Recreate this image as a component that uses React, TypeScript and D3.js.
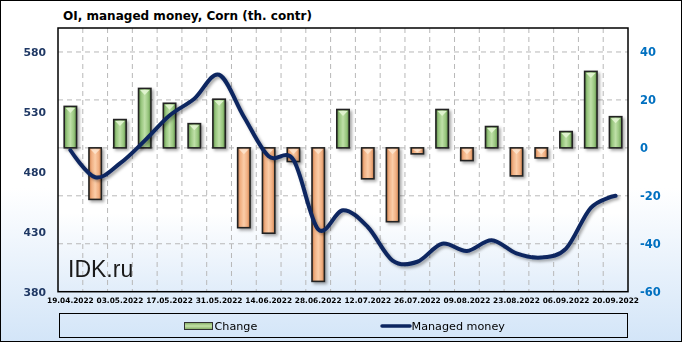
import React from "react";
import * as d3 from "d3";

const dates = [
  "19.04.2022", "26.04.2022", "03.05.2022", "10.05.2022", "17.05.2022", "24.05.2022",
  "31.05.2022", "07.06.2022", "14.06.2022", "21.06.2022", "28.06.2022", "05.07.2022",
  "12.07.2022", "19.07.2022", "26.07.2022", "02.08.2022", "09.08.2022", "16.08.2022",
  "23.08.2022", "30.08.2022", "06.09.2022", "13.09.2022", "20.09.2022",
];
const change = [17.3, -21.5, 11.8, 24.8, 18.6, 10.1, 20.3, -33.3, -35.6, -5.7, -55.7, 16, -12.9, -30.8, -2.5, 16, -5.3, 8.9, -11.7, -4.2, 6.8, 31.9, 13];
const managedMoney = [498, 475.5, 487, 506, 527, 541, 561, 526, 493, 490, 432, 448, 434, 406, 405, 420, 414, 423, 412, 408.5, 416, 450, 460];
const leftTicks = [380, 430, 480, 530, 580];
const rightTicks = [-60, -40, -20, 0, 20, 40];
const gridTicks = [-40, -20, 0, 20, 40];
const title = "OI, managed money, Corn (th. contr)";

const W = 682, H = 342;
const L = 58, R = 628, T = 28, B = 291.7;
const FONT = "'DejaVu Sans', Verdana, sans-serif";

export default function App() {
  const x = d3.scaleBand<string>().domain(dates).range([L, R]).padding(0);
  const yL = d3.scaleLinear().domain([380, 600]).range([B, T]);
  const yR = d3.scaleLinear().domain([-60, 50]).range([B, T]);
  const bw = x.bandwidth() * 0.5;
  const cx = (d: string) => (x(d) as number) + x.bandwidth() / 2;

  const line = d3
    .line<number>()
    .x((_, i) => cx(dates[i]))
    .y((v) => yL(v))
    .curve(d3.curveCardinal.tension(0));
  const path = line(managedMoney) || "";

  return (
    <svg width={W} height={H} style={{ position: "absolute", left: 0, top: 0 }} xmlns="http://www.w3.org/2000/svg">
      <defs>
        <linearGradient id="bg" x1="0" y1="0" x2="0" y2="1">
          <stop offset="0" stopColor="#ffffff" />
          <stop offset="0.55" stopColor="#ffffff" />
          <stop offset="1" stopColor="#d3e5f8" />
        </linearGradient>
        <linearGradient id="plotbg" x1="0" y1="0" x2="0" y2="1">
          <stop offset="0" stopColor="#ffffff" />
          <stop offset="0.7" stopColor="#ffffff" />
          <stop offset="1" stopColor="#e1edfa" />
        </linearGradient>
        <linearGradient id="gGreen" x1="0" y1="0" x2="1" y2="0">
          <stop offset="0" stopColor="#5f8f48" />
          <stop offset="0.22" stopColor="#98c67e" />
          <stop offset="0.5" stopColor="#bfe0a8" />
          <stop offset="0.78" stopColor="#98c67e" />
          <stop offset="1" stopColor="#5f8f48" />
        </linearGradient>
        <linearGradient id="gOrange" x1="0" y1="0" x2="1" y2="0">
          <stop offset="0" stopColor="#c77c4a" />
          <stop offset="0.22" stopColor="#f0af82" />
          <stop offset="0.5" stopColor="#fbcda8" />
          <stop offset="0.78" stopColor="#f0af82" />
          <stop offset="1" stopColor="#c77c4a" />
        </linearGradient>
        <linearGradient id="legGreen" x1="0" y1="0" x2="0" y2="1">
          <stop offset="0" stopColor="#7fa860" />
          <stop offset="0.5" stopColor="#c5e3a8" />
          <stop offset="1" stopColor="#7fa860" />
        </linearGradient>
        <filter id="shadow" x="-30%" y="-30%" width="160%" height="160%">
          <feDropShadow dx="2" dy="2" stdDeviation="1.5" floodColor="#000" floodOpacity="0.35" />
        </filter>
      </defs>

      <rect x={0.5} y={0.5} width={W - 1} height={H - 1} fill="url(#bg)" stroke="#000" strokeWidth={1} />

      <text x={63} y={20} fontFamily={FONT} fontWeight="bold" fontSize={12.5} textLength={249} lengthAdjust="spacingAndGlyphs" fill="#000">
        {title}
      </text>

      <rect x={L} y={T} width={R - L} height={B - T} fill="url(#plotbg)" />

      {gridTicks.map((t) => (
        <line key={"h" + t} x1={L} x2={R} y1={yR(t)} y2={yR(t)} stroke="#b8b8b8" strokeDasharray="5,4" strokeWidth={1} />
      ))}
      {dates.slice(1).map((d) => (
        <line key={"v" + d} x1={x(d)} x2={x(d)} y1={T} y2={B} stroke="#b8b8b8" strokeDasharray="5,4" strokeWidth={1} />
      ))}

      <g filter="url(#shadow)">
        {change.map((v, i) => {
          const d = dates[i];
          const x0 = cx(d) - bw / 2;
          const y0 = Math.min(yR(v), yR(0));
          const h = Math.abs(yR(v) - yR(0));
          const pos = v >= 0;
          const top = y0;
          const tri = Math.min(5, h / 2);
          return (
            <g key={d}>
              <rect x={x0} y={y0} width={bw} height={h} fill={pos ? "url(#gGreen)" : "url(#gOrange)"} stroke="#222" strokeWidth={1.6} />
              {h > 4 && (
                <polygon
                  points={`${x0 + 1.5},${top + 1.5} ${x0 + bw - 1.5},${top + 1.5} ${x0 + bw / 2},${top + 1.5 + tri}`}
                  fill={pos ? "#e3f5d3" : "#fde3cc"}
                  opacity={0.9}
                />
              )}
            </g>
          );
        })}
      </g>

      <path d={path} fill="none" stroke="#0b2560" strokeWidth={4} strokeLinecap="round" filter="url(#shadow)" />

      <text x={68} y={277} fontFamily="'Liberation Sans', Arial, sans-serif" fontSize={23} fill="#1a1a1a">IDK.ru</text>

      <rect x={L} y={T} width={R - L} height={B - T} fill="none" stroke="#000" strokeWidth={1.5} />

      {leftTicks.map((t) => (
        <text key={"l" + t} x={46} y={yL(t) + 4} textAnchor="end" fontFamily={FONT} fontWeight="bold" fontSize={10.8} fill="#1f3864">
          {t}
        </text>
      ))}
      {rightTicks.map((t) => (
        <text key={"r" + t} x={640} y={yR(t) + 4.5} textAnchor="start" fontFamily={FONT} fontWeight="bold" fontSize={11.5} fill="#0070c0">
          {t}
        </text>
      ))}
      {dates.map((d, i) =>
        i % 2 === 0 ? (
          <text key={"x" + d} x={cx(d)} y={302.5} textAnchor="middle" fontFamily={FONT} fontWeight="bold" fontSize={7.4} fill="#000">
            {d}
          </text>
        ) : null
      )}

      <rect x={59.5} y={313.5} width={568} height={24} fill="none" stroke="#000" strokeWidth={1} />
      <rect x={184.5} y={322.5} width={28} height={7} fill="url(#legGreen)" stroke="#333" strokeWidth={1} />
      <text x={214.5} y={330} fontFamily={FONT} fontSize={11.2} fill="#000">Change</text>
      <line x1={382} x2={410} y1={326} y2={326} stroke="#0b2560" strokeWidth={3.5} strokeLinecap="round" />
      <text x={411.5} y={330} fontFamily={FONT} fontSize={11.2} fill="#000">Managed money</text>
    </svg>
  );
}
